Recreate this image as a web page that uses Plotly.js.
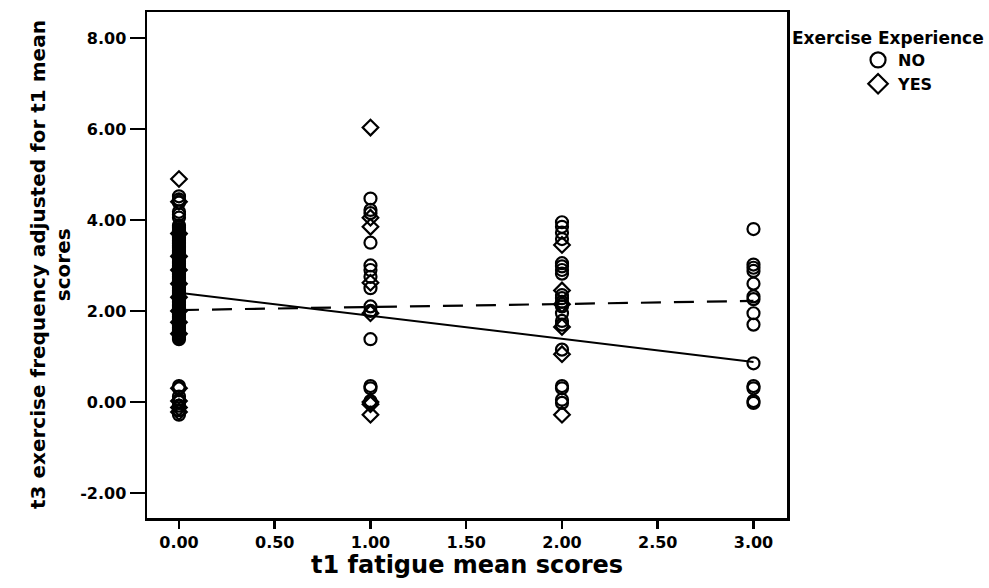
<!DOCTYPE html>
<html>
<head>
<meta charset="utf-8">
<script src="https://cdn.plot.ly/plotly-3.0.1.min.js"></script>
<style>html,body{margin:0;padding:0;background:#fff;}#chart{width:989px;height:588px;}</style>
</head>
<body>
<div id="chart"></div>
<script>
// ---- data ----
var yNo0 = [4.52, 4.45, 4.38, 4.18, 4.12, 4.05, 3.88, 3.84, 3.80, 3.77, 3.74, 3.71, 3.68, 3.65, 3.62, 3.58, 3.55, 3.51, 3.48, 3.45, 3.42, 3.39, 3.36, 3.33, 3.30, 3.27, 3.24, 3.21, 3.18, 3.15, 3.12, 3.08, 3.05, 3.01, 2.98, 2.95, 2.92, 2.89, 2.86, 2.83, 2.80, 2.77, 2.74, 2.71, 2.68, 2.65, 2.62, 2.58, 2.55, 2.51, 2.48, 2.45, 2.42, 2.39, 2.36, 2.33, 2.30, 2.27, 2.24, 2.21, 2.18, 2.15, 2.12, 2.08, 2.05, 2.01, 1.98, 1.95, 1.92, 1.89, 1.86, 1.83, 1.80, 1.77, 1.74, 1.71, 1.68, 1.65, 1.62, 1.59, 1.56, 1.53, 1.50, 1.47, 1.44, 1.41, 1.38, 0.35, 0.30, 0.12, 0.05, 0.00, -0.08, -0.18, -0.28];
var yYes0 = [4.90, 4.40, 3.70, 3.20, 2.90, 2.60, 2.30, 2.00, 1.75, 1.50, 0.30, 0.02, -0.12, -0.22];
var yNo1 = [4.47, 4.22, 4.15, 3.50, 3.00, 2.90, 2.75, 2.50, 2.10, 2.00, 1.38, 0.35, 0.30, 0.02];
var yYes1 = [6.03, 4.05, 3.85, 2.62, 1.95, 0.00, -0.05, -0.28];
var yNo2 = [3.95, 3.85, 3.72, 3.58, 3.05, 2.98, 2.90, 2.82, 2.35, 2.28, 2.20, 2.10, 1.95, 1.78, 1.70, 1.15, 0.35, 0.30, 0.05, -0.02];
var yYes2 = [3.45, 2.45, 2.15, 1.65, 1.05, -0.28];
var yNo3 = [3.80, 3.02, 2.95, 2.88, 2.60, 2.32, 2.26, 1.95, 1.70, 0.85, 0.35, 0.30, 0.02, -0.02];
var yYes3 = [];
var fatigueLevels = [0, 1, 2, 3];
var fitX = [0, 3];
var fitNo = [2.40, 0.88];
var fitYes = [2.02, 2.22];
var xTickVals = [0, 0.5, 1, 1.5, 2, 2.5, 3];
var xTickText = ["0.00", "0.50", "1.00", "1.50", "2.00", "2.50", "3.00"];
var yTickVals = [-2, 0, 2, 4, 6, 8];
var yTickText = ["-2.00", "0.00", "2.00", "4.00", "6.00", "8.00"];
var groupNames = ["NO", "YES"];
var legendTitle = "Exercise Experience";
var xTitle = "t1 fatigue mean scores";
var yTitleLine1 = "t3 exercise frequency adjusted for t1 mean";
var yTitleLine2 = "scores";

// ---- build traces ----
function flatten(groups) {
  var xs = [], ys = [];
  groups.forEach(function (g, i) {
    g.forEach(function (v) { xs.push(fatigueLevels[i]); ys.push(v); });
  });
  return {x: xs, y: ys};
}
var noPts = flatten([yNo0, yNo1, yNo2, yNo3]);
var yesPts = flatten([yYes0, yYes1, yYes2, yYes3]);

var F = "DejaVu Sans, Arial, sans-serif";
var traces = [
  {x: noPts.x, y: noPts.y, type: "scatter", mode: "markers", showlegend: false,
   marker: {symbol: "circle-open", size: 12, color: "#000", line: {width: 2.2, color: "#000"}}},
  {x: yesPts.x, y: yesPts.y, type: "scatter", mode: "markers", showlegend: false,
   marker: {symbol: "diamond-open", size: 12, color: "#000", line: {width: 2.2, color: "#000"}}},
  {x: fitX, y: fitNo, type: "scatter", mode: "lines", showlegend: false,
   line: {color: "#000", width: 2}},
  {x: fitX, y: fitYes, type: "scatter", mode: "lines", showlegend: false,
   line: {color: "#000", width: 2.2, dash: "20px,13px"}},
  // legend entries
  {x: [null], y: [null], type: "scatter", mode: "markers", name: groupNames[0],
   marker: {symbol: "circle-open", size: 15, color: "#000", line: {width: 2.2, color: "#000"}}},
  {x: [null], y: [null], type: "scatter", mode: "markers", name: groupNames[1],
   marker: {symbol: "diamond-open", size: 15, color: "#000", line: {width: 2.2, color: "#000"}}}
];

var layout = {
  width: 989, height: 588,
  margin: {l: 147, r: 202, t: 12, b: 70, pad: 0},
  paper_bgcolor: "#fff", plot_bgcolor: "#fff",
  font: {family: F, color: "#000"},
  showlegend: true,
  legend: {x: 1.111, xanchor: "left", y: 0.9387, yanchor: "top",
           font: {family: F, size: 16, color: "#000", weight: "bold"},
           itemsizing: "trimmed", bgcolor: "rgba(0,0,0,0)", tracegroupgap: 0},
  annotations: [
    {text: "<b>" + legendTitle + "</b>", xref: "paper", yref: "paper",
     x: 1.158, y: 0.9486, xanchor: "center", yanchor: "middle", showarrow: false,
     font: {family: F, size: 17, color: "#000"}},
    {text: "<b>" + xTitle + "</b>", xref: "paper", yref: "paper",
     x: 0.5, y: -0.093, xanchor: "center", yanchor: "middle", showarrow: false,
     font: {family: F, size: 24, color: "#000"}},
    {text: "<b>" + yTitleLine1 + "</b>", xref: "paper", yref: "paper", textangle: -90,
     x: -0.1703, y: 0.5, xanchor: "center", yanchor: "middle", showarrow: false,
     font: {family: F, size: 20, color: "#000"}},
    {text: "<b>" + yTitleLine2 + "</b>", xref: "paper", yref: "paper", textangle: -90,
     x: -0.131, y: 0.5, xanchor: "center", yanchor: "middle", showarrow: false,
     font: {family: F, size: 20, color: "#000"}}
  ],
  xaxis: {range: [-0.167, 3.175], tickvals: xTickVals, ticktext: xTickText,
          showgrid: false, zeroline: false, showline: true, linecolor: "#000", linewidth: 2.5,
          mirror: true, ticks: "outside", ticklen: 8, tickwidth: 2.5, tickcolor: "#000",
          tickfont: {family: F, size: 16, color: "#000", weight: "bold"}},
  yaxis: {range: [-2.55, 8.57], tickvals: yTickVals, ticktext: yTickText,
          showgrid: false, zeroline: false, showline: true, linecolor: "#000", linewidth: 2.5,
          mirror: true, ticks: "outside", ticklen: 15, tickwidth: 2.5, tickcolor: "#000",
          tickfont: {family: F, size: 16, color: "#000", weight: "bold"}}
};

Plotly.newPlot("chart", traces, layout, {displayModeBar: false, staticPlot: true});
</script>
</body>
</html>
